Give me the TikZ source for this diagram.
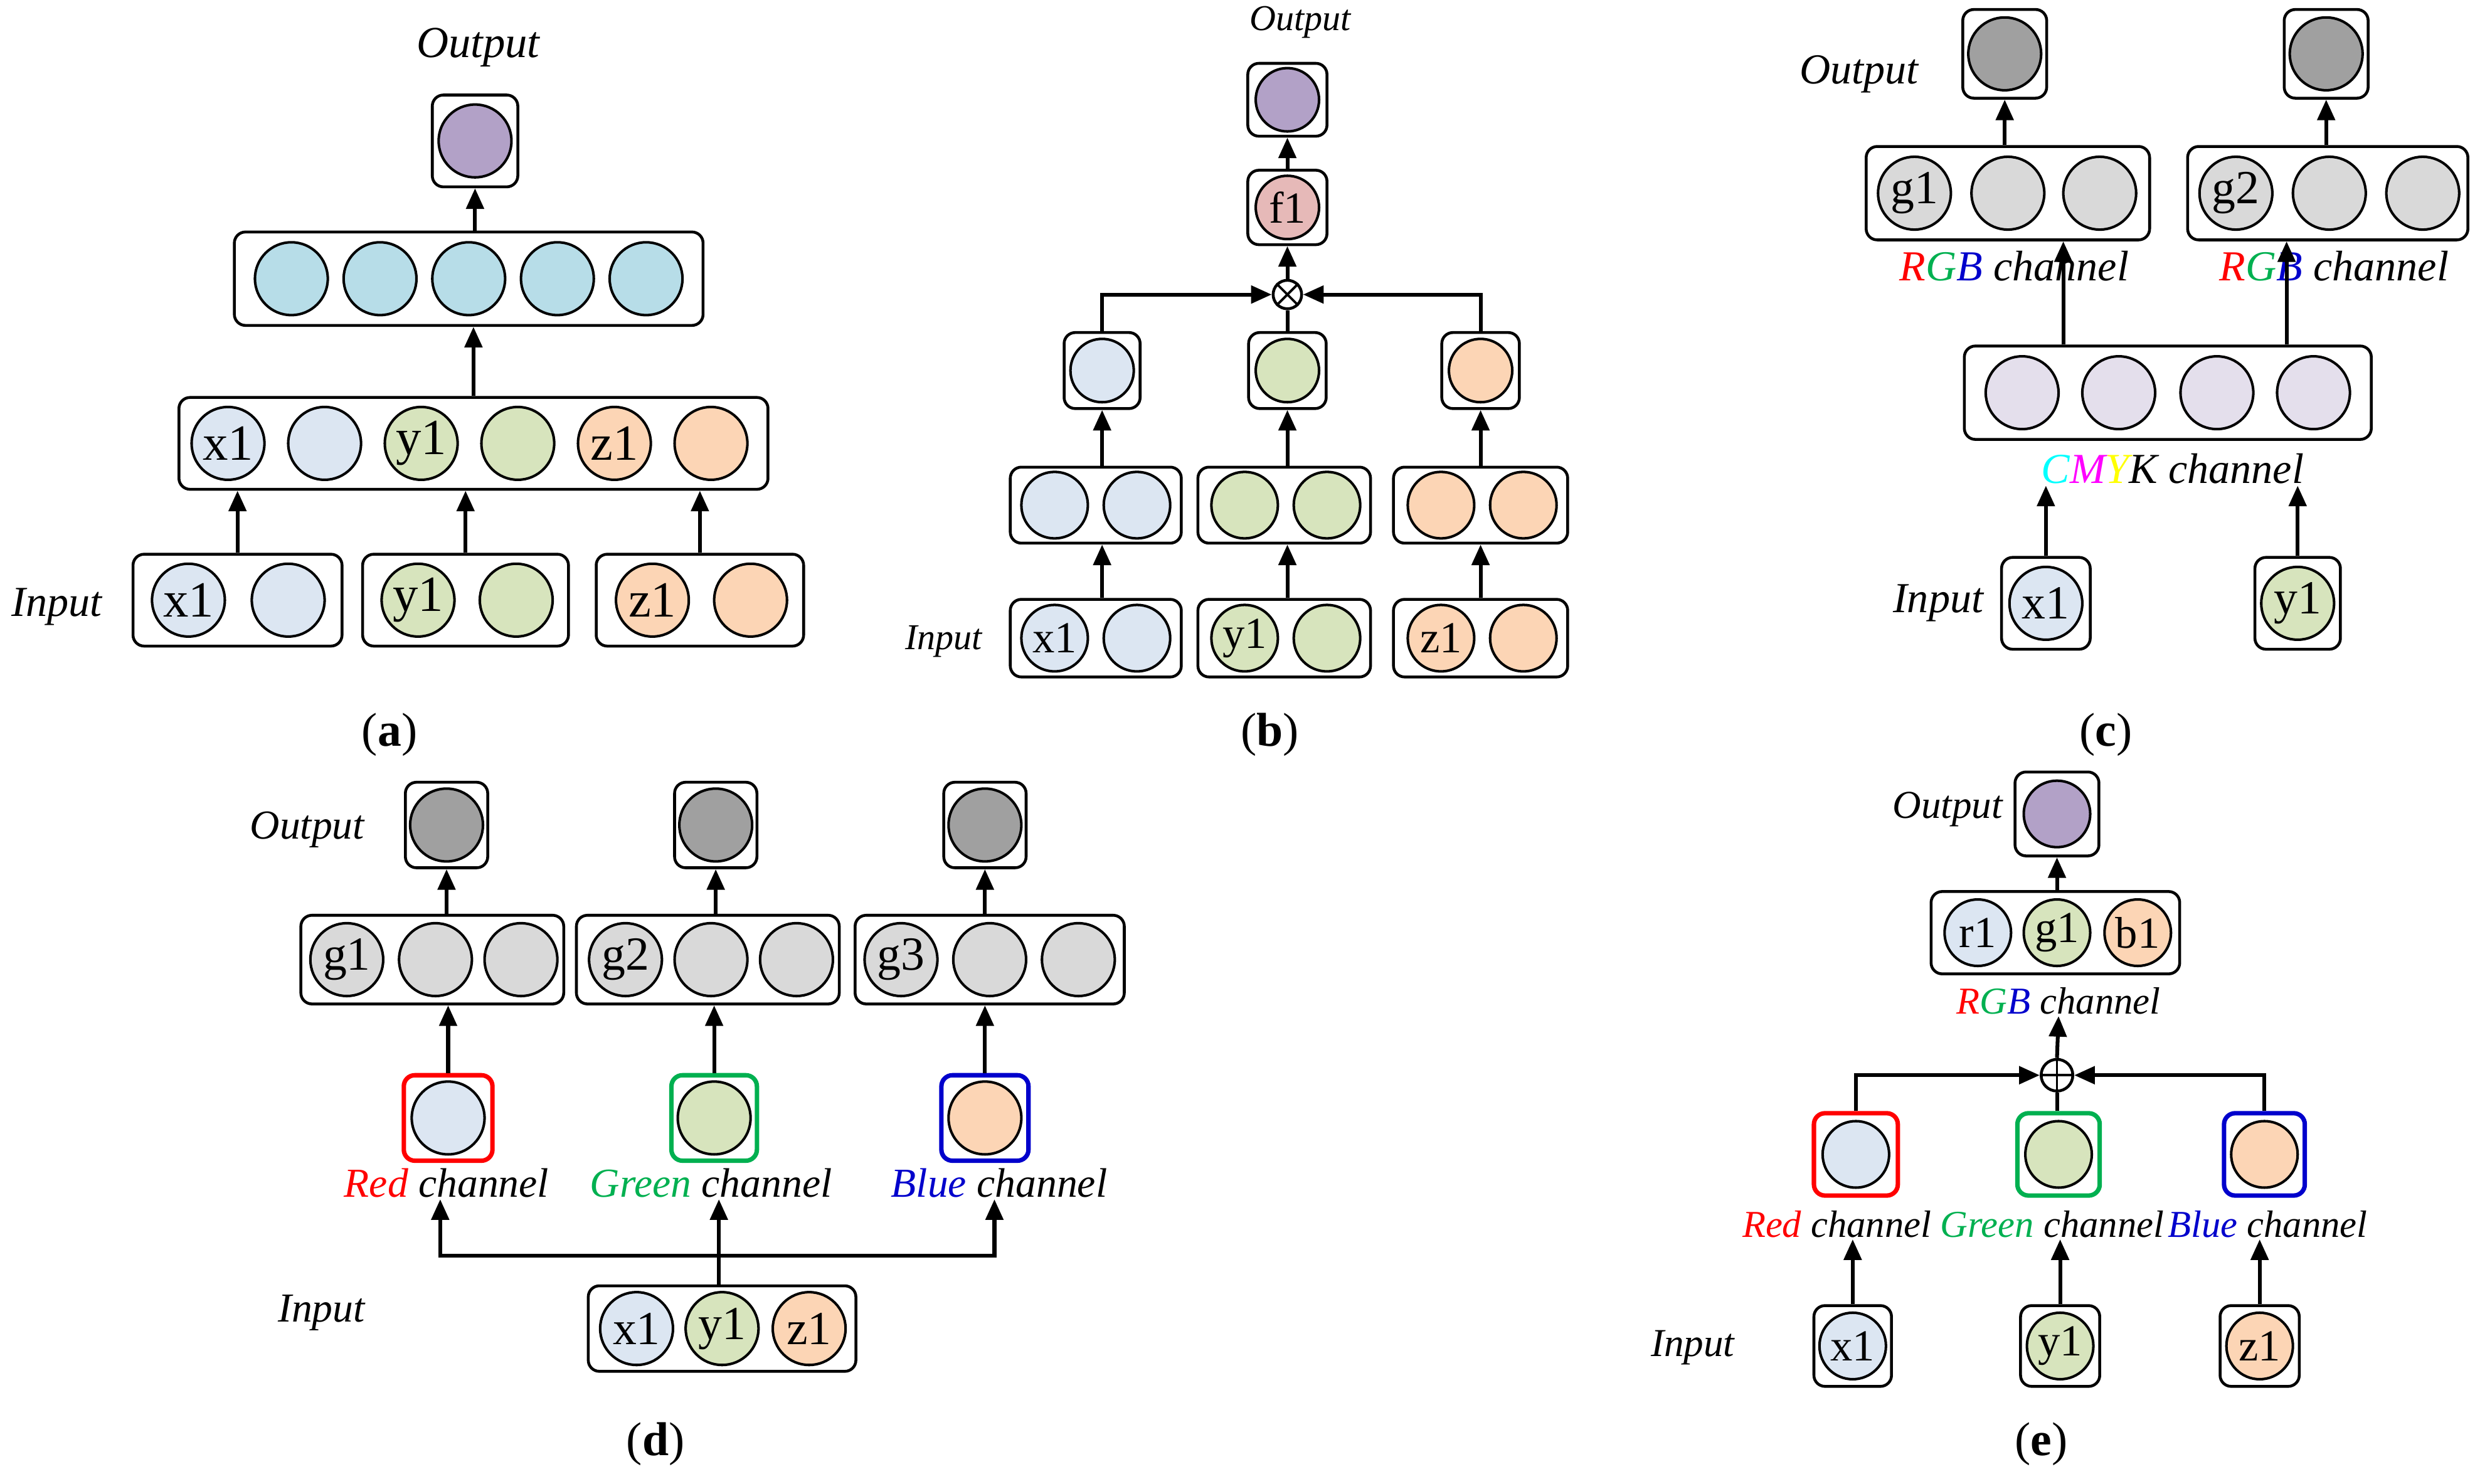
\documentclass[tikz,border=0pt]{standalone}
\usepackage{fontspec}
\setmainfont{Liberation Serif}
\usetikzlibrary{arrows.meta}
\definecolor{cB}{HTML}{DCE6F2}
\definecolor{cG}{HTML}{D7E4BD}
\definecolor{cO}{HTML}{FCD5B5}
\definecolor{cP}{HTML}{B2A1C7}
\definecolor{cC}{HTML}{B7DDE8}
\definecolor{cK}{HTML}{E6B9B8}
\definecolor{cL}{HTML}{D9D9D9}
\definecolor{cD}{HTML}{A0A0A0}
\definecolor{cV}{HTML}{E4DFEC}
\definecolor{tR}{HTML}{FF0000}
\definecolor{tG}{HTML}{00B050}
\definecolor{tB}{HTML}{0000CC}
\definecolor{tC}{HTML}{00FFFF}
\definecolor{tM}{HTML}{FF00FF}
\definecolor{tY}{HTML}{FFFF00}
\newcommand{\fs}[1]{\fontsize{#1}{#1}\selectfont}
\tikzset{
 box/.style={draw, rounded corners=7, line width=1.8, inner sep=0},
 neu/.style={circle, draw, line width=1.6, minimum size=#1, inner sep=0},
 neu/.default=46,
 arr/.style={line width=2.4, -{Triangle[length=13,width=11]}},
 ln/.style={line width=2.4},
 lbl/.style={font=\itshape\fs{26}, inner sep=1},
 capt/.style={font=\fs{30}},
}
\begin{document}
\begin{tikzpicture}[x=1pt,y=-1pt]
\useasboundingbox (0,0) rectangle (1563,937);
% ---------------- (a)
\node[box,minimum width=54,minimum height=58] (A0) at (300,89) {};
\node[neu,fill=cP] (A0c) at (300,89) {};
\node[box,minimum width=296,minimum height=59] (A1) at (296,176) {};
\foreach \x [count=\i] in {184,240,296,352,408} \node[neu,fill=cC] (A1c\i) at (\x,176) {};
\node[box,minimum width=372,minimum height=58] (A2) at (299,280) {};
\begin{scope}[every node/.append style={font=\fs{32}}]
\node[neu,fill=cB] (A2c1) at (144,280) {x1};
\node[neu,fill=cB] (A2c2) at (205,280) {};
\node[neu,fill=cG] (A2c3) at (266,280) {y1};
\node[neu,fill=cG] (A2c4) at (327,280) {};
\node[neu,fill=cO] (A2c5) at (388,280) {z1};
\node[neu,fill=cO] (A2c6) at (449,280) {};
\node[box,minimum width=132,minimum height=58] (A3a) at (150,379) {};
\node[box,minimum width=130,minimum height=58] (A3b) at (294,379) {};
\node[box,minimum width=131,minimum height=58] (A3c) at (442,379) {};
\node[neu,fill=cB] (A3a1) at (119,379) {x1};
\node[neu,fill=cB] (A3a2) at (182,379) {};
\node[neu,fill=cG] (A3b1) at (264,379) {y1};
\node[neu,fill=cG] (A3b2) at (326,379) {};
\node[neu,fill=cO] (A3c1) at (412,379) {z1};
\node[neu,fill=cO] (A3c2) at (474,379) {};
\end{scope}
\draw[arr] (A3a.north) -- (A3a.north |- A2.south);
\draw[arr] (A3b.north) -- (A3b.north |- A2.south);
\draw[arr] (A3c.north) -- (A3c.north |- A2.south);
\draw[arr] (A2.north) -- (A2.north |- A1.south);
\draw[arr] (A0.south |- A1.north) -- (A0.south);
\node[lbl,font=\itshape\fs{28}] (Aout) at (302,30) {Output};
\node[lbl,font=\itshape\fs{27}] (Ain) at (36,383) {Input};
\node[capt] (Acap) at (246,464) {(\textbf{a})};
% ---------------- (b)
\begin{scope}[every node/.append style={font=\fs{28}}]
\node[box,minimum width=50,minimum height=46] (B0) at (813,63) {};
\node[neu=40,fill=cP] (B0c) at (813,63) {};
\node[box,minimum width=50,minimum height=47] (Bf) at (813,131) {};
\node[neu=40,fill=cK] (Bfc) at (813,131) {f1};
\node[circle,draw,line width=1.8,minimum size=18,inner sep=0] (ot) at (813,186) {};
\node[box,minimum width=48,minimum height=48] (Bs1) at (696,234) {};
\node[box,minimum width=49,minimum height=48] (Bs2) at (813,234) {};
\node[box,minimum width=49,minimum height=48] (Bs3) at (935,234) {};
\node[neu=40,fill=cB] (Bs1c) at (696,234) {};
\node[neu=40,fill=cG] (Bs2c) at (813,234) {};
\node[neu=40,fill=cO] (Bs3c) at (935,234) {};
\node[box,minimum width=108,minimum height=48] (Bm1) at (692,319) {};
\node[box,minimum width=109,minimum height=48] (Bm2) at (811,319) {};
\node[box,minimum width=110,minimum height=48] (Bm3) at (935,319) {};
\node[neu=42,fill=cB] (Bm1a) at (666,319) {};
\node[neu=42,fill=cB] (Bm1b) at (718,319) {};
\node[neu=42,fill=cG] (Bm2a) at (786,319) {};
\node[neu=42,fill=cG] (Bm2b) at (838,319) {};
\node[neu=42,fill=cO] (Bm3a) at (910,319) {};
\node[neu=42,fill=cO] (Bm3b) at (962,319) {};
\node[box,minimum width=108,minimum height=49] (Bb1) at (692,403) {};
\node[box,minimum width=109,minimum height=49] (Bb2) at (811,403) {};
\node[box,minimum width=110,minimum height=49] (Bb3) at (935,403) {};
\node[neu=42,fill=cB] (Bb1a) at (666,403) {x1};
\node[neu=42,fill=cB] (Bb1b) at (718,403) {};
\node[neu=42,fill=cG] (Bb2a) at (786,403) {y1};
\node[neu=42,fill=cG] (Bb2b) at (838,403) {};
\node[neu=42,fill=cO] (Bb3a) at (910,403) {z1};
\node[neu=42,fill=cO] (Bb3b) at (962,403) {};
\end{scope}
\draw[line width=1.5] (ot.north west) -- (ot.south east) (ot.north east) -- (ot.south west);
\draw[arr] (Bs1.north) |- (ot.west);
\draw[arr] (Bs3.north) |- (ot.east);
\draw[ln] (Bs2.north) -- (ot.south);
\draw[arr] (ot.north) -- (Bf.south);
\draw[arr] (Bf.north) -- (B0.south);
\foreach \i in {1,2,3} {
 \draw[arr] (Bs\i.south |- Bm\i.north) -- (Bs\i.south);
 \draw[arr] (Bs\i.south |- Bb\i.north) -- (Bs\i.south |- Bm\i.south);
}
\node[lbl,font=\itshape\fs{23}] (Bout) at (821,14) {Output};
\node[lbl,font=\itshape\fs{23}] (Bin) at (596,405) {Input};
\node[capt] (Bcap) at (802,464) {(\textbf{b})};
% ---------------- (c)
\begin{scope}[every node/.append style={font=\fs{30}}]
\node[box,minimum width=53,minimum height=56] (C0a) at (1266,34) {};
\node[box,minimum width=53,minimum height=56] (C0b) at (1469,34) {};
\node[neu,fill=cD] (C0ac) at (1266,34) {};
\node[neu,fill=cD] (C0bc) at (1469,34) {};
\node[box,minimum width=179,minimum height=59] (C1a) at (1268,122) {};
\node[box,minimum width=177,minimum height=59] (C1b) at (1470,122) {};
\node[neu,fill=cL] (C1a1) at (1209,122) {g1};
\node[neu,fill=cL] (C1a2) at (1268,122) {};
\node[neu,fill=cL] (C1a3) at (1326,122) {};
\node[neu,fill=cL] (C1b1) at (1412,122) {g2};
\node[neu,fill=cL] (C1b2) at (1471,122) {};
\node[neu,fill=cL] (C1b3) at (1530,122) {};
\node[box,minimum width=257,minimum height=59] (C2) at (1369,248) {};
\foreach \x [count=\i] in {1277,1338,1400,1461} \node[neu,fill=cV] (C2c\i) at (\x,248) {};
\node[box,minimum width=56,minimum height=58] (C3a) at (1292,381) {};
\node[box,minimum width=54,minimum height=58] (C3b) at (1451,381) {};
\node[neu,fill=cB] (C3a1) at (1292,381) {x1};
\node[neu,fill=cG] (C3b1) at (1451,381) {y1};
\end{scope}
\node[lbl,font=\itshape\fs{27}] (Crgb1) at (1272,168) {\textcolor{tR}{R}\textcolor{tG}{G}\textcolor{tB}{B} channel};
\node[lbl,font=\itshape\fs{27}] (Crgb2) at (1474,168) {\textcolor{tR}{R}\textcolor{tG}{G}\textcolor{tB}{B} channel};
\node[lbl,font=\itshape\fs{27}] (Ccmyk) at (1372,296) {\textcolor{tC}{C}\textcolor{tM}{M}\textcolor{tY}{Y}K channel};
\draw[arr] (C0a.south |- C1a.north) -- (C0a.south);
\draw[arr] (C0b.south |- C1b.north) -- (C0b.south);
\draw[arr] ([xshift=-66]C2.north) -- ([xshift=-66]C2.north |- C1a.south);
\draw[arr] ([xshift=75]C2.north) -- ([xshift=75]C2.north |- C1b.south);
\draw[arr] (C3a.north) -- (C3a.north |- Ccmyk.south);
\draw[arr] (C3b.north) -- (C3b.north |- Ccmyk.south);
\node[lbl,font=\itshape\fs{27}] (Cout) at (1174,47) {Output};
\node[lbl,font=\itshape\fs{27}] (Cin) at (1224,381) {Input};
\node[capt] (Ccap) at (1330,464) {(\textbf{c})};
% ---------------- (d)
\begin{scope}[every node/.append style={font=\fs{30}}]
\foreach \x [count=\i] in {282,452,622} {
 \node[box,minimum width=52,minimum height=54] (D0\i) at (\x,521) {};
 \node[neu,fill=cD] (D0c\i) at (\x,521) {};
}
\node[box,minimum width=166,minimum height=56] (D11) at (273,606) {};
\node[box,minimum width=166,minimum height=56] (D12) at (447,606) {};
\node[box,minimum width=170,minimum height=56] (D13) at (625,606) {};
\node[neu,fill=cL] (D11a) at (219,606) {g1};
\node[neu,fill=cL] (D11b) at (275,606) {};
\node[neu,fill=cL] (D11c) at (329,606) {};
\node[neu,fill=cL] (D12a) at (395,606) {g2};
\node[neu,fill=cL] (D12b) at (449,606) {};
\node[neu,fill=cL] (D12c) at (503,606) {};
\node[neu,fill=cL] (D13a) at (569,606) {g3};
\node[neu,fill=cL] (D13b) at (625,606) {};
\node[neu,fill=cL] (D13c) at (681,606) {};
\node[box,draw=tR,line width=2.8,minimum width=56,minimum height=54] (D21) at (283,706) {};
\node[box,draw=tG,line width=2.8,minimum width=54,minimum height=54] (D22) at (451,706) {};
\node[box,draw=tB,line width=2.8,minimum width=55,minimum height=54] (D23) at (622,706) {};
\node[neu,fill=cB] (D21c) at (283,706) {};
\node[neu,fill=cG] (D22c) at (451,706) {};
\node[neu,fill=cO] (D23c) at (622,706) {};
\node[box,minimum width=169,minimum height=54] (D3) at (456,839) {};
\node[neu,fill=cB] (D3a) at (402,839) {x1};
\node[neu,fill=cG] (D3b) at (456,839) {y1};
\node[neu,fill=cO] (D3c) at (511,839) {z1};
\end{scope}
\node[lbl] (DLr) at (282,747) {\textcolor{tR}{Red} channel};
\node[lbl] (DLg) at (449,747) {\textcolor{tG}{Green} channel};
\node[lbl] (DLb) at (631,747) {\textcolor{tB}{Blue} channel};
\foreach \i in {1,2,3} {
 \draw[arr] (D0\i.south |- D1\i.north) -- (D0\i.south);
 \draw[arr] (D2\i.north) -- (D2\i.north |- D1\i.south);
}
\coordinate (dJ) at (454,793);
\draw[ln] (D3.north -| dJ) -- (dJ);
\draw[arr] (dJ) -- (dJ |- DLg.south);
\draw[arr] (dJ) -| ([xshift=-4]DLr.south);
\draw[arr] (dJ) -| ([xshift=-3]DLb.south);
\node[lbl] (Dout) at (194,524) {Output};
\node[lbl] (Din) at (203,829) {Input};
\node[capt] (Dcap) at (414,912) {(\textbf{d})};
% ---------------- (e)
\begin{scope}[every node/.append style={font=\fs{28}}]
\node[box,minimum width=53,minimum height=53] (E0) at (1299,514) {};
\node[neu=42,fill=cP] (E0c) at (1299,514) {};
\node[box,minimum width=157,minimum height=52] (E1) at (1298,589) {};
\node[neu=42,fill=cB] (E1a) at (1249,589) {r1};
\node[neu=42,fill=cG] (E1b) at (1299,589) {g1};
\node[neu=42,fill=cO] (E1c) at (1350,589) {b1};
\node[circle,draw,line width=1.8,minimum size=20,inner sep=0] (op) at (1299,679) {};
\node[box,draw=tR,line width=2.8,minimum width=53,minimum height=52] (E2a) at (1172,729) {};
\node[box,draw=tG,line width=2.8,minimum width=52,minimum height=52] (E2b) at (1300,729) {};
\node[box,draw=tB,line width=2.8,minimum width=51,minimum height=52] (E2c) at (1430,729) {};
\node[neu=42,fill=cB] (E2ac) at (1172,729) {};
\node[neu=42,fill=cG] (E2bc) at (1300,729) {};
\node[neu=42,fill=cO] (E2cc) at (1430,729) {};
\node[box,minimum width=49,minimum height=51] (E3a) at (1170,850) {};
\node[box,minimum width=50,minimum height=51] (E3b) at (1301,850) {};
\node[box,minimum width=50,minimum height=51] (E3c) at (1427,850) {};
\node[neu=42,fill=cB] (E3ac) at (1170,850) {x1};
\node[neu=42,fill=cG] (E3bc) at (1301,850) {y1};
\node[neu=42,fill=cO] (E3cc) at (1427,850) {z1};
\end{scope}
\node[lbl,font=\itshape\fs{24}] (Ergb) at (1300,632) {\textcolor{tR}{R}\textcolor{tG}{G}\textcolor{tB}{B} channel};
\node[lbl,font=\itshape\fs{24}] (ELr) at (1160,773) {\textcolor{tR}{Red} channel};
\node[lbl,font=\itshape\fs{24}] (ELg) at (1296,773) {\textcolor{tG}{Green} channel};
\node[lbl,font=\itshape\fs{24}] (ELb) at (1432,773) {\textcolor{tB}{Blue} channel};
\draw[line width=1.5] (op.north) -- (op.south) (op.west) -- (op.east);
\draw[arr] (op.north) -- (Ergb.south);
\draw[arr] (E1.north -| E0) -- (E0.south);
\draw[arr] (E2a.north) |- (op.west);
\draw[arr] (E2c.north) |- (op.east);
\draw[ln] (E2b.north -| op) -- (op.south);
\draw[arr] (E3a.north) -- (E3a.north |- ELr.south);
\draw[arr] (E3b.north) -- (E3b.north |- ELg.south);
\draw[arr] (E3c.north) -- (E3c.north |- ELb.south);
\node[lbl,font=\itshape\fs{25}] (Eout) at (1230,511) {Output};
\node[lbl,font=\itshape\fs{25}] (Ein) at (1069,851) {Input};
\node[capt] (Ecap) at (1289,912) {(\textbf{e})};
\end{tikzpicture}
\end{document}
